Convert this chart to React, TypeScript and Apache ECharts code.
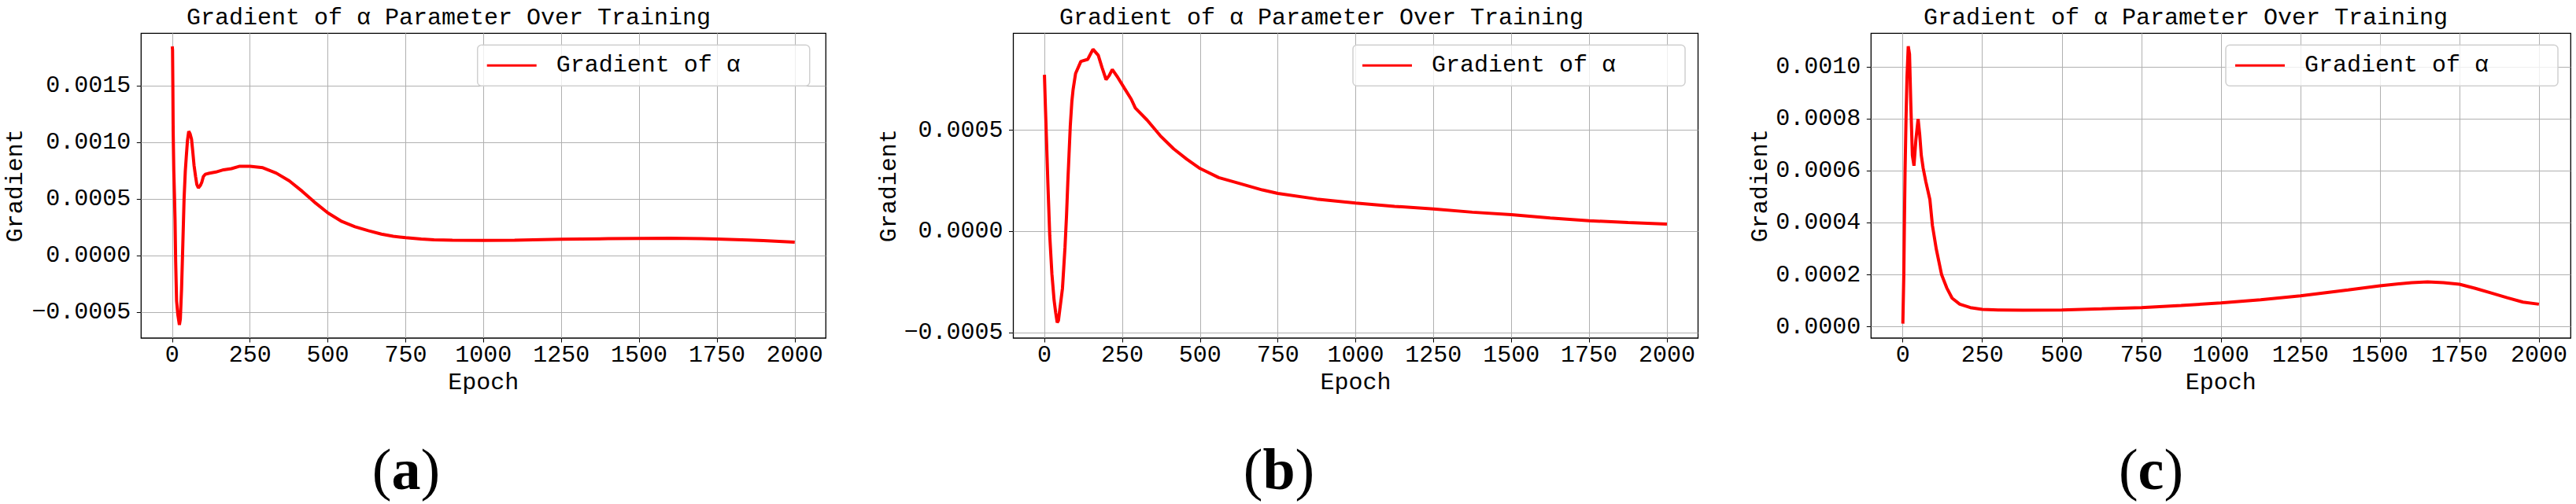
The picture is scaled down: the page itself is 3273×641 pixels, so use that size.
import React, { useEffect, useRef } from "react";
import * as echarts from "echarts";

// ---------- data ----------
const epochsA = [0, 1, 2, 3, 5, 7, 9, 11, 14, 18, 23, 26, 30, 34, 38, 42, 45, 49, 53, 57, 62, 66, 70, 75, 79, 84, 90, 95, 100, 106, 120, 140, 165, 190, 215, 250, 291, 334, 376, 418, 461, 500, 545, 587, 630, 672, 710, 750, 800, 841, 900, 1000, 1100, 1250, 1400, 1500, 1600, 1700, 1750, 1850, 1900, 1950, 2000];
const gradA = [0.00185, 0.00182, 0.0015, 0.0011, 0.00075, 0.00055, 0.00032, -0.00005, -0.0004, -0.00052, -0.00061, -0.00056, -0.00029, 0.0001, 0.0005, 0.00075, 0.00087, 0.00102, 0.0011, 0.00108, 0.00103, 0.00092, 0.0008, 0.0007, 0.00063, 0.0006, 0.00062, 0.00065, 0.0007, 0.00072, 0.00073, 0.00074, 0.00076, 0.00077, 0.00079, 0.00079, 0.000778, 0.000731, 0.000662, 0.000569, 0.000465, 0.000379, 0.000303, 0.000257, 0.000222, 0.000192, 0.000172, 0.00016, 0.000148, 0.000141, 0.000137, 0.000136, 0.000138, 0.000146, 0.000151, 0.000153, 0.000155, 0.000152, 0.000149, 0.00014, 0.000135, 0.000128, 0.00012];

const epochsB = [0, 3, 7, 11, 17, 24, 31, 36, 41, 45, 49, 54, 58, 62, 66, 71, 75, 79, 83, 88, 92, 100, 117, 139, 156, 173, 185, 198, 208, 218, 236, 258, 279, 292, 330, 372, 415, 457, 500, 560, 625, 700, 750, 875, 1000, 1125, 1250, 1375, 1500, 1625, 1750, 1875, 2000];
const gradB = [0.000774, 0.00062, 0.000434, 0.00024, -0.00002, -0.00021, -0.00034, -0.0004, -0.00045, -0.00044, -0.00039, -0.00033, -0.00028, -0.00018, -0.00008, 0.00008, 0.00024, 0.00038, 0.00052, 0.00064, 0.0007, 0.00078, 0.00084, 0.00085, 0.0009, 0.00087, 0.00081, 0.00075, 0.00077, 0.0008, 0.00076, 0.000705, 0.000653, 0.00061, 0.00055, 0.000473, 0.000408, 0.000357, 0.000311, 0.000266, 0.000238, 0.000205, 0.000188, 0.00016, 0.00014, 0.000124, 0.000111, 0.000095, 0.000083, 0.000066, 0.000053, 0.000044, 0.000036];

const epochsC = [0, 3, 5, 7, 10, 13, 17, 21, 25, 30, 35, 41, 48, 53, 58, 64, 72, 85, 93, 105, 122, 138, 155, 179, 212, 250, 300, 377, 500, 625, 750, 875, 1000, 1125, 1250, 1400, 1500, 1600, 1650, 1700, 1750, 1800, 1850, 1900, 1950, 2000];
const gradC = [0.000012, 0.0002, 0.00041, 0.0006, 0.0008, 0.00096, 0.00108, 0.00105, 0.00086, 0.00066, 0.00062, 0.00072, 0.0008, 0.00074, 0.00066, 0.00061, 0.00056, 0.00049, 0.00039, 0.0003, 0.0002, 0.00015, 0.00011, 0.000087, 0.000074, 0.000067, 0.000065, 0.000064, 0.000065, 0.000069, 0.000074, 0.000082, 0.000092, 0.000104, 0.000119, 0.000142, 0.000158, 0.00017, 0.000173, 0.00017, 0.000164, 0.000148, 0.00013, 0.000112, 0.000095, 0.000087];

const xTicks = [0, 250, 500, 750, 1000, 1250, 1500, 1750, 2000];
const yTicksA = [-0.0005, 0, 0.0005, 0.001, 0.0015];
const yTicksB = [-0.0005, 0, 0.0005];
const yTicksC = [0, 0.0002, 0.0004, 0.0006, 0.0008, 0.001];

const titleText = "Gradient of \u03b1 Parameter Over Training";
const seriesName = "Gradient of \u03b1";
const xName = "Epoch";
const yName = "Gradient";
const panelLabels = ["a", "b", "c"];

// ---------- layout ----------
const MONO = "Liberation Mono";
const panels = [
  { left: 179.3, width: 870, yMin: -0.000727, yMax: 0.001966, yTicks: yTicksA, epochs: epochsA, vals: gradA, titleX: 237, legendX: 606.7, nameGap: 144, labelX: 516 },
  { left: 1287.5, width: 870, yMin: -0.000527, yMax: 0.000979, yTicks: yTicksB, epochs: epochsB, vals: gradB, titleX: 1346, legendX: 1719, nameGap: 143, labelX: 1625 },
  { left: 2377.3, width: 889, yMin: -0.0000435, yMax: 0.00113, yTicks: yTicksC, epochs: epochsC, vals: gradC, titleX: 2444, legendX: 2828, nameGap: 125, labelX: 2733 },
];
const TOP = 42.3;
const HEIGHT = 387.7;

const fmtY = (v: number) => v.toFixed(4).replace("-", "\u2212");

export default function App() {
  const ref = useRef<HTMLDivElement>(null);
  useEffect(() => {
    document.body.style.margin = "0";
    const chart = echarts.init(ref.current!, null, { renderer: "svg" });
    const gridLine = { show: true, lineStyle: { color: "#b0b0b0", width: 1 } };
    const option: any = {
      animation: false,
      backgroundColor: "#fff",
      title: panels.map((p) => ({
        text: titleText,
        left: p.titleX,
        top: 8,
        padding: 0,
        textStyle: { fontFamily: MONO, fontSize: 30, fontWeight: "normal", color: "#000" },
      })),
      legend: panels.map((p) => ({
        data: [seriesName],
        left: p.legendX,
        top: 57.3,
        orient: "horizontal",
        padding: [11, 88, 11, 12],
        backgroundColor: "rgba(255,255,255,0.8)",
        borderColor: "#d0d0d0",
        borderWidth: 1.5,
        borderRadius: 5,
        icon: "rect",
        itemWidth: 63,
        itemHeight: 3,
        selectedMode: false,
        textStyle: { fontFamily: MONO, fontSize: 30, color: "#000", padding: [0, 0, 0, 20] },
      })),
      grid: panels.map((p) => ({
        left: p.left,
        top: TOP,
        width: p.width,
        height: HEIGHT,
        show: true,
        borderColor: "#000",
        borderWidth: 1.3,
        backgroundColor: "transparent",
        containLabel: false,
      })),
      xAxis: panels.map((p, i) => ({
        type: "value",
        gridIndex: i,
        position: "bottom",
        min: -100,
        max: 2100,
        name: xName,
        nameLocation: "middle",
        nameGap: 40,
        nameTextStyle: { fontFamily: MONO, fontSize: 30, color: "#000" },
        axisLine: { show: false, onZero: false },
        axisTick: { show: true, length: 5.5, inside: false, customValues: xTicks, lineStyle: { color: "#000", width: 1 } },
        axisLabel: { customValues: xTicks, fontFamily: MONO, fontSize: 30, color: "#000", margin: 7, formatter: (v: number) => String(v) },
        splitLine: gridLine,
      })),
      yAxis: panels.map((p, i) => ({
        type: "value",
        gridIndex: i,
        position: "left",
        min: p.yMin,
        max: p.yMax,
        name: yName,
        nameLocation: "middle",
        nameGap: p.nameGap,
        nameTextStyle: { fontFamily: MONO, fontSize: 30, color: "#000" },
        axisLine: { show: false, onZero: false },
        axisTick: { show: true, length: 5.5, inside: false, customValues: p.yTicks, lineStyle: { color: "#000", width: 1 } },
        axisLabel: { customValues: p.yTicks, fontFamily: MONO, fontSize: 30, color: "#000", margin: 13, formatter: fmtY },
        splitLine: gridLine,
      })),
      series: panels.map((p, i) => ({
        name: seriesName,
        type: "line",
        xAxisIndex: i,
        yAxisIndex: i,
        showSymbol: false,
        symbol: "none",
        lineStyle: { color: "#ff0000", width: 4 },
        itemStyle: { color: "#ff0000" },
        data: p.epochs.map((e, k) => [e, p.vals[k]]),
      })),
      graphic: panels.map((p, i) => ({
        type: "text",
        x: p.labelX,
        y: 597,
        style: {
          text: "{p|(}{b|" + panelLabels[i] + "}{p|)}",
          align: "center",
          verticalAlign: "middle",
          rich: {
            p: { fontFamily: "Liberation Serif", fontSize: 74, fontWeight: "normal", fill: "#000", color: "#000" },
            b: { fontFamily: "Liberation Serif", fontSize: 74, fontWeight: "bold", fill: "#000", color: "#000" },
          },
        },
      })),
    };
    chart.setOption(option);
    return () => chart.dispose();
  }, []);
  return <div ref={ref} style={{ position: "absolute", left: 0, top: 0, width: 3273, height: 641 }} />;
}
